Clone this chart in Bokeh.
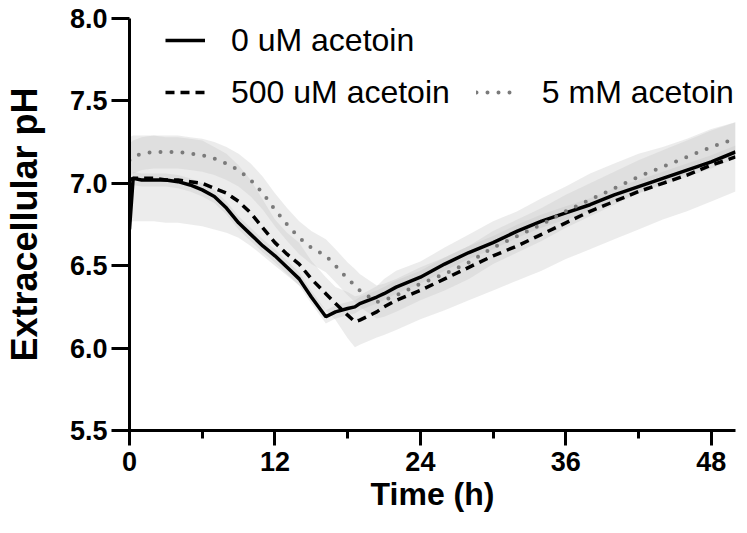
from bokeh.plotting import figure
from bokeh.models import Range1d, SingleIntervalTicker, Legend, LegendItem, CustomJSTickFormatter
from bokeh.embed import file_html
from bokeh.resources import INLINE
import numpy as np

# ---- data ----
time_h = [0, 0.3, 1, 2, 3, 4, 5, 6, 7, 8, 9, 10, 11, 12, 13, 14, 15, 16.2, 17, 18,
          18.6, 19, 20.4, 21, 22, 24, 26, 28, 30, 32, 34, 36, 38, 40, 42, 44, 46, 48, 50]

ph_0uM = [6.72, 7.03, 7.02, 7.02, 7.02, 7.01, 6.99, 6.96, 6.92, 6.85, 6.76, 6.69, 6.62, 6.56,
          6.49, 6.42, 6.31, 6.19, 6.22, 6.24, 6.25, 6.27, 6.31, 6.33, 6.37, 6.43, 6.51, 6.58,
          6.64, 6.71, 6.77, 6.82, 6.87, 6.93, 6.98, 7.03, 7.08, 7.13, 7.19]
sd_0uM = [0.04] * 39

ph_500uM = [7.02, 7.03, 7.03, 7.03, 7.02, 7.02, 7.01, 7.00, 6.97, 6.94, 6.89, 6.82, 6.73, 6.64,
            6.57, 6.51, 6.42, 6.33, 6.27, 6.20, 6.16, 6.17, 6.22, 6.25, 6.29, 6.35, 6.42, 6.49,
            6.56, 6.62, 6.69, 6.76, 6.83, 6.89, 6.95, 7.00, 7.05, 7.11, 7.16]
sd_500uM = [0.26, 0.26, 0.26, 0.26, 0.26, 0.26, 0.26, 0.26, 0.25, 0.24, 0.22, 0.20, 0.17, 0.14,
            0.13, 0.13, 0.11, 0.10, 0.10, 0.14, 0.155, 0.15, 0.155, 0.17, 0.18, 0.175, 0.19, 0.20,
            0.21, 0.21, 0.22, 0.22, 0.23, 0.23, 0.23, 0.22, 0.22, 0.22, 0.21]

ph_5mM = [7.14, 7.16, 7.18, 7.19, 7.19, 7.19, 7.18, 7.17, 7.15, 7.12, 7.08, 7.02, 6.94, 6.84,
          6.75, 6.67, 6.61, 6.56, 6.50, 6.42, 6.38, 6.35, 6.28, 6.29, 6.32, 6.39, 6.45, 6.52,
          6.61, 6.68, 6.75, 6.83, 6.90, 6.97, 7.04, 7.10, 7.16, 7.22, 7.27]
sd_5mM = [0.10] * 39

labels = ["0 uM acetoin", "500 uM acetoin", "5 mM acetoin"]
x_ticks_interval = 12
y_ticks_interval = 0.5

FONT = "Liberation Sans"

p = figure(width=747, height=533, output_backend="svg", toolbar_location=None,
           x_range=Range1d(0, 50), y_range=Range1d(5.5, 8.0),
           min_border_left=127, min_border_right=12, min_border_top=18, min_border_bottom=103)
p.outline_line_color = None
p.xgrid.grid_line_color = None
p.ygrid.grid_line_color = None
p.background_fill_color = "white"
p.border_fill_color = "white"

t = np.array(time_h)
for mean, sd in ((ph_0uM, sd_0uM), (ph_500uM, sd_500uM), (ph_5mM, sd_5mM)):
    m = np.array(mean)
    s = np.array(sd)
    p.varea(x=t, y1=m - s, y2=m + s, fill_color="#c4c4c4", fill_alpha=0.32)

r0 = p.line(time_h, ph_0uM, line_color="black", line_width=3.5)
r1 = p.line(time_h, ph_500uM, line_color="black", line_width=3.5, line_dash="9 6")
r2 = p.line(time_h, ph_5mM, line_color="#7a7a7a", line_width=4, line_dash="0 11", line_cap="round")

# axes
for ax in (p.xaxis[0], p.yaxis[0]):
    ax.axis_line_width = 3
    ax.major_tick_line_width = 3
    ax.minor_tick_line_width = 3
    ax.major_tick_out = 15
    ax.major_tick_in = 0
    ax.minor_tick_out = 8
    ax.minor_tick_in = 0
    ax.major_label_text_font = FONT
    ax.major_label_text_font_style = "bold"
    ax.major_label_text_font_size = "27px"
    ax.major_label_text_color = "black"
    ax.axis_label_text_font = FONT
    ax.axis_label_text_font_style = "bold"
    ax.axis_label_text_color = "black"

p.yaxis.major_tick_out = 18
p.xaxis.axis_label_text_font_size = "32px"
p.yaxis.axis_label_text_font_size = "36px"
p.xaxis.ticker = SingleIntervalTicker(interval=x_ticks_interval, num_minor_ticks=2)
p.yaxis.ticker = SingleIntervalTicker(interval=y_ticks_interval, num_minor_ticks=0)
p.yaxis.minor_tick_line_color = None
p.yaxis.formatter = CustomJSTickFormatter(code="return tick.toFixed(1);")
p.xaxis.axis_label = "Time (h)"
p.yaxis.axis_label = "Extracellular pH"
p.xaxis.major_label_standoff = 6
p.yaxis.major_label_standoff = 4
p.xaxis.axis_label_standoff = 2
p.yaxis.axis_label_standoff = 22

def make_legend(items, loc):
    lg = Legend(items=items, location=loc, orientation="horizontal",
                border_line_color=None, background_fill_alpha=0,
                padding=0, margin=0, spacing=26, label_standoff=26,
                glyph_width=40, glyph_height=40, label_height=40,
                label_text_font=FONT, label_text_font_size="32px",
                label_text_color="black")
    p.add_layout(lg, "center")
    return lg

make_legend([LegendItem(label=labels[0], renderers=[r0])], (36, 370))
make_legend([LegendItem(label=labels[1], renderers=[r1]),
             LegendItem(label=labels[2], renderers=[r2])], (36, 318))

open("out.html", "w").write(file_html(p, INLINE))
